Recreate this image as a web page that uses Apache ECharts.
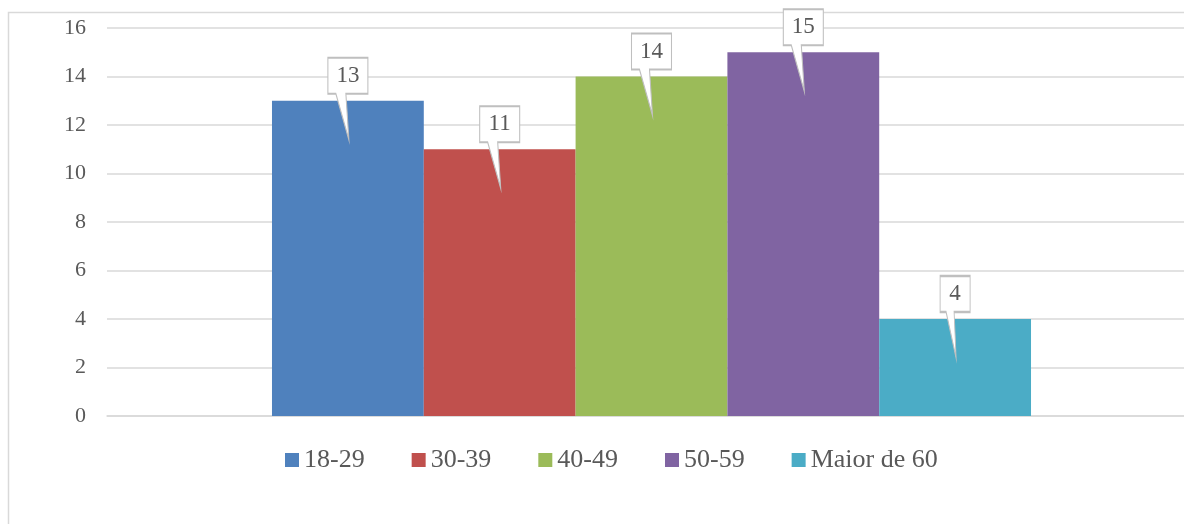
<!DOCTYPE html>
<html>
<head>
<meta charset="utf-8">
<script src="https://cdn.jsdelivr.net/npm/echarts@6/dist/echarts.min.js"></script>
<style>
  html, body { margin: 0; padding: 0; background: #fff; overflow: hidden; }
</style>
</head>
<body>
<!-- the plot area runs a little past the right edge of the picture, so the canvas is wider than the window -->
<div id="chart" style="width:1220px;height:524px;"></div>
<script>
const ageGroups = ['18-29', '30-39', '40-49', '50-59', 'Maior de 60']
const counts = [13, 11, 14, 15, 4]
const yTicks = { min: 0, max: 16, step: 2 }

const Colors = ['#4F81BD', '#C0504D', '#9BBB59', '#8064A2', '#4BACC6']
const TextColor = '#595959'
const Font = 'Liberation Serif'

// callout shapes: box on top, tail pointing down into the bar
const calloutWide = 'path://M0,0 L40,0 L40,36 L18,36 L21,82 L8,36 L0,36 Z'
const calloutNarrow = 'path://M0,0 L30,0 L30,36 L14,36 L16,82 L6,36 L0,36 Z'

const series = ageGroups.map((name, i) => {
  const v = counts[i]
  const wide = String(v).length > 1
  return {
    name,
    type: 'bar',
    data: [v],
    barGap: 0,
    barCategoryGap: '30.3%',
    itemStyle: { color: Colors[i] },
    markPoint: {
      silent: true,
      symbol: wide ? calloutWide : calloutNarrow,
      symbolKeepAspect: false,
      symbolSize: wide ? [40, 82] : [30, 82],
      symbolOffset: [0, -2],
      itemStyle: { color: '#fff', borderColor: '#bfbfbf', borderWidth: 1.5 },
      label: {
        show: true,
        position: 'inside',
        offset: [0, -23],
        color: TextColor,
        fontSize: 23,
        fontFamily: Font,
        formatter: String(v)
      },
      data: [{ coord: [0, v], value: v }]
    }
  }
})

var myChart = echarts.init(document.getElementById('chart'), null, { renderer: 'canvas' })
var option = {
  animation: false,
  backgroundColor: '#fff',
  graphic: [{
    type: 'rect',
    silent: true,
    z: -1,
    shape: { x: 8.5, y: 12.5, width: 1300, height: 600 },
    style: { fill: 'none', stroke: '#d9d9d9', lineWidth: 1.5 }
  }],
  legend: {
    left: 280,
    top: 442,
    icon: 'rect',
    itemWidth: 14,
    itemHeight: 14,
    itemGap: 47,
    textStyle: { color: TextColor, fontSize: 26, fontFamily: Font },
    data: ageGroups
  },
  grid: {
    left: 107,
    top: 28,
    width: 1089,
    height: 388,
    containLabel: false
  },
  xAxis: {
    type: 'category',
    data: [''],
    axisLine: { show: true, lineStyle: { color: '#d9d9d9', width: 1.5 } },
    axisTick: { show: false },
    axisLabel: { show: false }
  },
  yAxis: {
    type: 'value',
    min: yTicks.min,
    max: yTicks.max,
    interval: yTicks.step,
    axisLine: { show: false },
    axisTick: { show: false },
    splitLine: { lineStyle: { color: '#d9d9d9', width: 1.5 } },
    axisLabel: {
      margin: 21,
      color: TextColor,
      fontSize: 22,
      fontFamily: Font
    }
  },
  series
}
myChart.setOption(option, true)
</script>
</body>
</html>
